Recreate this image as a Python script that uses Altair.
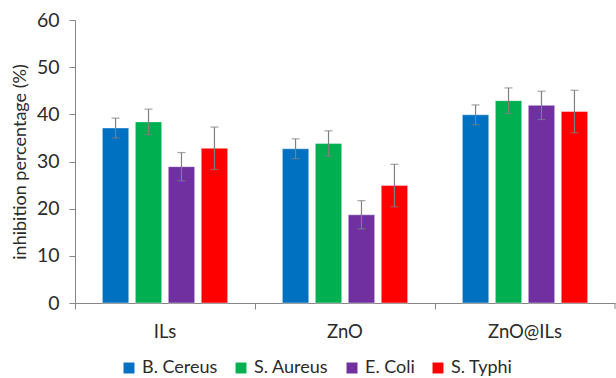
import altair as alt
import pandas as pd

# Treatments on the x axis and bacterial strains in each group
groups = ["ILs", "ZnO", "ZnO@ILs"]
strains = ["B. Cereus", "S. Aureus", "E. Coli", "S. Typhi"]
colors = ["#0070C0", "#00B050", "#7030A0", "#FF0000"]

# Inhibition percentage per strain, listed in group order (ILs, ZnO, ZnO@ILs)
b_cereus = [37.1, 32.7, 39.9]
s_aureus = [38.4, 33.8, 42.9]
e_coli = [28.9, 18.7, 41.9]
s_typhi = [32.8, 24.9, 40.6]

# Error bar half-widths per strain
errors = {"B. Cereus": 2.1, "S. Aureus": 2.7, "E. Coli": 3.0, "S. Typhi": 4.5}

series = {"B. Cereus": b_cereus, "S. Aureus": s_aureus, "E. Coli": e_coli, "S. Typhi": s_typhi}
rows = []
for strain in strains:
    for g, v in zip(groups, series[strain]):
        e = errors[strain]
        rows.append({"group": g, "strain": strain, "value": v, "lo": v - e, "hi": v + e})
df = pd.DataFrame(rows)

FONT = "Lato"
TEXT = "#2b2b2b"
AXIS = "#868686"

x_enc = alt.X(
    "group:N",
    sort=groups,
    scale=alt.Scale(paddingInner=0, paddingOuter=0),
    axis=alt.Axis(
        title=None,
        labelAngle=0,
        labelFontSize=18.5,
        labelColor=TEXT,
        labelFont=FONT,
        labelPadding=13,
        bandPosition=0,
        tickSize=6,
        tickColor=AXIS,
        domainColor=AXIS,
        grid=False,
    ),
)
xoff = alt.XOffset(
    "strain:N",
    sort=strains,
    scale=alt.Scale(paddingInner=0.2, paddingOuter=0.83),
)
y_scale = alt.Scale(domain=[0, 60], nice=False)

bars = alt.Chart(df).mark_bar(stroke="#ffffff", strokeWidth=0.8, strokeOpacity=0.5).encode(
    x=x_enc,
    xOffset=xoff,
    y=alt.Y(
        "value:Q",
        scale=y_scale,
        axis=alt.Axis(
            title="inhibition percentage (%)",
            titleFont=FONT,
            titleFontSize=18,
            titleFontWeight="normal",
            titleColor=TEXT,
            titlePadding=7,
            values=[0, 10, 20, 30, 40, 50, 60],
            labelFont=FONT,
            labelFontSize=19.5,
            labelColor=TEXT,
            labelPadding=10,
            tickSize=6,
            tickColor=AXIS,
            domainColor=AXIS,
            grid=False,
        ),
    ),
    color=alt.Color(
        "strain:N",
        sort=strains,
        scale=alt.Scale(domain=strains, range=colors),
        legend=alt.Legend(
            title=None,
            orient="none",
            direction="horizontal",
            legendX=45,
            legendY=339,
            symbolType="square",
            symbolSize=120,
            symbolStrokeWidth=0,
            labelFont=FONT,
            labelFontSize=18,
            labelColor=TEXT,
            columnPadding=14,
            labelOffset=4,
        ),
    ),
)

whisker = alt.Chart(df).mark_rule(color="#7f7f7f", strokeWidth=1.2).encode(
    x=alt.X("group:N", sort=groups),
    xOffset=xoff,
    y=alt.Y("lo:Q", scale=y_scale),
    y2="hi:Q",
)
cap_lo = alt.Chart(df).mark_tick(color="#7f7f7f", size=8, thickness=1.2).encode(
    x=alt.X("group:N", sort=groups),
    xOffset=xoff,
    y=alt.Y("lo:Q", scale=y_scale),
)
cap_hi = alt.Chart(df).mark_tick(color="#7f7f7f", size=8, thickness=1.2).encode(
    x=alt.X("group:N", sort=groups),
    xOffset=xoff,
    y=alt.Y("hi:Q", scale=y_scale),
)

# closing tick at the right end of the category axis
end_tick = alt.Chart(pd.DataFrame({"group": [groups[-1]]})).mark_rule(
    color=AXIS, strokeWidth=1
).encode(
    x=alt.X(datum=groups[-1], bandPosition=1),
    y=alt.value(283),
    y2=alt.value(289),
)

chart = (
    alt.layer(bars, whisker, cap_lo, cap_hi, end_tick)
    .properties(
        width=540,
        height=283,
        autosize=alt.AutoSizeParams(type="none"),
        padding={"left": 75, "top": 20, "right": 1, "bottom": 75},
        background="white",
    )
    .configure_view(stroke=None)
)

chart.save("out.html", embed_options={"renderer": "svg", "actions": False})
